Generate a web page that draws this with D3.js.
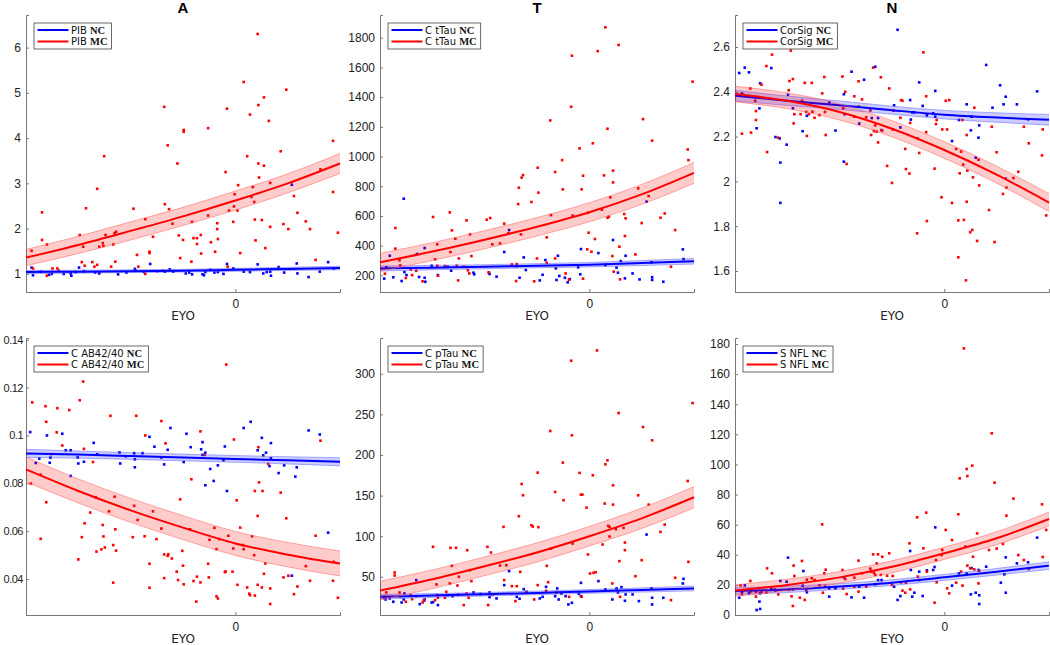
<!DOCTYPE html>
<html>
<head>
<meta charset="utf-8">
<script src="https://cdn.jsdelivr.net/npm/d3@7"></script>
<style>
  body { margin: 0; background: #fff; }
  svg { font-family: "DejaVu Sans", sans-serif; }
  .axis path, .axis line { stroke: #777; }
  .axis text { fill: #222; font-size: 12px; }
</style>
</head>
<body>
<svg id="chart" width="1050" height="645"></svg>
<script>
// EYO positions of the fitted curves
const fitEyo = [-30, -22.5, -15, -7.5, 0, 7.5, 15];
const eyoTicks = [0];

// ---- A : PIB ----
const pibTicks = [1, 2, 3, 4, 5, 6];
const pibMcFit = [1.36, 1.64, 1.95, 2.27, 2.62, 3.0, 3.44];
const pibMcBand = [0.18, 0.19, 0.2, 0.2, 0.21, 0.21, 0.22];
const pibNcFit = [1.04, 1.05, 1.06, 1.07, 1.09, 1.11, 1.13];
const pibNcBand = [0.035, 0.033, 0.03, 0.03, 0.032, 0.035, 0.04];
const pibMC = [[-29.2,1.51],[-29,1.12],[-27.7,2.36],[-27.7,1.75],[-27,1.65],[-27,0.96],[-26.2,1.12],[-25.5,1.12],[-25.3,1.07],
  [-22.3,1.86],[-21.8,1.6],[-21.4,2.45],[-22,1.26],[-21.6,1.18],[-20.5,1.26],[-20.2,1.16],[-19.8,2.88],[-19.8,1.2],[-19.5,1.6],
  [-18.9,1.62],[-18.8,3.6],[-19,1.68],[-18.6,1.86],[-17.8,1.16],[-17.5,1.65],[-17.3,1.9],[-17.1,1.93],[-17.2,1.27],[-14.6,2.44],
  [-14.1,1.42],[-13.9,1.16],[-12.9,2.21],[-12.3,1.49],[-12.3,1.46],[-11.8,1.82],[-12.9,1.0],[-10.2,4.69],[-10.1,2.54],[-9.7,3.84],
  [-9.5,2.43],[-9.0,2.11],[-8.3,3.44],[-8.1,1.85],[-7.9,1.35],[-7.5,1.75],[-7.4,4.18],[-7.4,4.14],[-6.2,2.15],[-6.3,1.27],
  [-6.0,1.79],[-5.5,1.79],[-5.5,1.66],[-4.95,1.86],[-4.9,1.45],[-3.9,4.22],[-3.9,2.29],[-3.5,1.7],[-2.9,1.49],[-2.6,2.12],
  [-2.6,1.99],[-2.5,1.77],[-1.4,3.25],[-1.2,4.65],[-1.1,1.16],[-0.9,2.4],[-0.3,2.15],[-0.2,2.49],[-0.1,2.76],[0.3,2.4],[0.4,2.96],
  [0.7,1.46],[1.2,5.24],[1.7,3.6],[2.1,4.52],[2.3,2.7],[2.5,2.92],[2.7,2.59],[2.8,2.2],[2.9,1.74],[3.2,6.3],[3.3,4.73],[3.3,3.44],
  [3.4,3.13],[3.8,2.19],[4.1,3.39],[4.1,4.9],[4.3,1.57],[4.8,4.38],[5.0,2.04],[5.0,3.01],[6.5,3.71],[6.9,2.1],[7.3,5.07],[7.6,1.99],
  [8.4,2.72],[8.9,2.35],[10.1,2.16],[10.7,1.99],[11.5,1.31],[14.0,3.94],[14.0,2.81],[14.7,1.91],[12.2,3.31],[-10.4,1.07]];
const pibNC = [[-29.2,1.14],[-29,0.97],[-27.9,1.05],[-26.7,0.98],[-26.3,1.0],[-24.6,1.0],[-23.6,1.01],[-23.5,0.96],[-22.9,1.04],
  [-22.4,1.14],[-21.7,1.06],[-20.1,1.03],[-19.5,1.01],[-16.8,0.99],[-15.6,1.03],[-14.4,1.11],[-14.3,1.07],[-13.1,1.04],[-12.2,1.22],
  [-11.2,1.06],[-10.1,1.05],[-9.4,1.1],[-8.9,1.05],[-7.1,1.01],[-6.6,1.03],[-6.2,0.99],[-4.7,0.99],[-4.5,0.97],[-4.3,1.04],
  [-3.6,1.09],[-3.0,1.03],[-2.5,1.04],[-1.7,1.0],[-1.2,1.22],[-0.3,1.12],[1.2,1.05],[2.1,1.04],[3.2,1.21],[4.0,1.01],[4.5,1.04],
  [5.1,0.96],[5.0,1.05],[6.2,1.15],[7.0,1.03],[8.1,2.97],[8.8,1.23],[8.9,1.01],[10.5,0.93],[12.1,1.05],[13.3,1.26],[14.1,1.12]];

// ---- T : CSF tTau ----
const ttauTicks = [200, 400, 600, 800, 1000, 1200, 1400, 1600, 1800];
const ttauMcFit = [288, 360, 440, 527, 625, 745, 890];
const ttauMcBand = [60, 60, 61, 62, 64, 67, 70];
const ttauNcFit = [246, 252, 258, 265, 272, 283, 295];
const ttauNcBand = [17, 15, 14, 14, 15, 17, 19];
const ttauMC = [[-29.3,211],[-27.8,519],[-27.8,380],[-27.2,301],[-27.1,267],[-26.3,182],[-25.6,240],[-25.4,202],[-24.8,231],
  [-23.9,160],[-22.4,593],[-22.1,308],[-21.8,409],[-21.8,265],[-21.7,198],[-20.7,263],[-20.0,624],[-19.9,357],[-19.7,503],
  [-19.2,447],[-19.0,265],[-18.8,166],[-18.7,314],[-18.0,258],[-17.6,256],[-17.6,570],[-17.4,234],[-17.2,213],[-17.1,476],
  [-16.9,330],[-14.7,575],[-14.4,220],[-14.2,586],[-13.9,409],[-12.8,415],[-12.2,548],[-11.6,483],[-11.1,274],[-10.5,162],
  [-10.4,276],[-10.2,680],[-10.1,790],[-9.8,476],[-9.7,858],[-9.5,875],[-8.3,694],[-7.9,160],[-7.5,314],[-7.4,925],[-7.3,757],
  [-6.1,456],[-6.1,285],[-5.6,1243],[-5.5,606],[-4.9,896],[-4.9,314],[-3.9,976],[-3.8,779],[-3.4,213],[-2.9,171],[-2.6,1335],
  [-2.5,1679],[-2.4,602],[-1.4,1055],[-1.1,779],[-0.9,871],[-0.9,178],[-0.3,375],[-0.2,622],[-0.1,487],[0.3,359],[0.5,1089],
  [0.8,445],[1.2,1710],[1.8,642],[2.1,873],[2.3,1870],[2.6,1187],[2.6,588],[2.8,595],[3.0,725],[3.3,330],[3.4,905],[3.4,826],
  [3.5,225],[4.2,1751],[4.3,393],[4.4,173],[5.0,613],[5.1,465],[5.2,584],[6.6,341],[7.0,786],[7.5,552],[7.7,1252],[8.5,734],
  [9.0,1107],[10.2,588],[10.8,617],[11.7,258],[12.3,505],[14.1,1048],[14.2,976],[14.8,1504]];
const ttauNC = [[-29.4,178],[-29.1,254],[-28.6,332],[-28.1,187],[-26.9,162],[-26.6,716],[-26.5,222],[-26.2,202],[-24.7,344],
  [-24.4,189],[-23.6,384],[-23.6,184],[-23.5,157],[-22.6,265],[-21.7,202],[-20.3,258],[-19.8,231],[-16.6,218],[-16.5,207],
  [-14.4,218],[-14.3,209],[-13.3,191],[-12.2,357],[-11.5,505],[-10.4,263],[-10.0,184],[-9.4,321],[-9.1,236],[-7.1,166],
  [-6.7,204],[-6.3,303],[-4.8,247],[-4.7,169],[-4.5,332],[-4.3,196],[-3.5,184],[-3.1,153],[-2.8,175],[-1.6,254],[-1.3,207],
  [-1.2,377],[1.3,350],[2.3,270],[3.4,438],[3.9,252],[4.1,218],[4.5,296],[5.1,180],[5.2,332],[6.2,213],[7.2,173],[8.2,696],
  [8.9,288],[9.0,187],[9.0,169],[10.6,157],[13.4,375],[13.5,310]];

// ---- N : cortical signature ----
const corTicks = [1.6, 1.8, 2, 2.2, 2.4, 2.6];
const corMcFit = [2.39, 2.36, 2.31, 2.235, 2.14, 2.03, 1.905];
const corMcBand = [0.035, 0.035, 0.036, 0.036, 0.037, 0.038, 0.04];
const corNcFit = [2.383, 2.36, 2.34, 2.318, 2.298, 2.285, 2.275];
const corNcBand = [0.024, 0.021, 0.019, 0.018, 0.019, 0.021, 0.024];
const corMC = [[-29.2,2.383],[-29.0,2.213],[-27.8,2.415],[-27.7,2.218],[-27.1,2.36],[-27.0,2.314],[-27.0,2.274],[-26.2,2.432],
  [-25.5,2.515],[-25.4,2.131],[-24.7,2.566],[-23.8,2.195],[-22.3,2.407],[-22.2,2.448],[-21.7,2.457],[-21.6,2.259],[-22.0,2.584],
  [-21.5,2.30],[-20.6,2.30],[-20.4,2.36],[-20.0,2.44],[-19.8,2.31],[-19.7,2.203],[-19.4,2.30],[-19.0,2.44],[-18.9,2.311],
  [-18.6,2.284],[-17.9,2.296],[-17.5,2.393],[-17.2,2.466],[-17.1,2.31],[-17.0,2.207],[-14.6,2.468],[-14.5,2.326],[-14.2,2.40],
  [-14.0,2.078],[-12.9,2.289],[-12.9,2.38],[-12.3,2.447],[-12.3,2.334],[-11.8,2.366],[-11.2,2.286],[-10.6,2.317],[-10.5,2.207],
  [-10.2,2.508],[-10.1,2.225],[-9.9,2.25],[-9.7,2.222],[-9.5,2.174],[-9.1,2.465],[-8.9,2.227],[-8.2,2.069],[-7.9,2.415],
  [-7.5,1.993],[-7.4,2.232],[-7.3,2.316],[-6.3,2.284],[-6.2,2.363],[-6.0,2.36],[-5.6,2.145],[-5.5,2.055],[-5.0,2.035],[-4.9,2.261],
  [-3.9,1.768],[-3.8,2.191],[-3.6,2.127],[-3.0,2.576],[-2.6,2.38],[-2.6,2.22],[-2.5,1.823],[-1.4,2.057],[-1.2,2.256],[-1.1,2.274],
  [-0.4,1.929],[-0.3,2.232],[0.2,2.36],[0.4,2.232],[0.7,2.363],[1.1,1.904],[1.7,2.145],[2.0,1.826],[2.0,1.661],[2.2,2.036],
  [2.4,2.133],[2.6,2.274],[2.7,2.075],[2.8,1.828],[3.1,1.558],[3.2,2.207],[3.2,1.909],[3.3,2.048],[3.7,1.773],[4.0,1.783],
  [4.1,2.018],[4.3,2.329],[4.7,1.734],[4.9,2.097],[5.0,1.982],[6.4,1.872],[6.8,2.244],[7.2,1.729],[7.5,2.13],[8.4,1.944],
  [8.9,1.972],[9.9,2.015],[10.6,2.043],[11.4,2.244],[12.1,2.17],[14.0,2.116],[14.1,2.232],[14.6,1.848]];
const corNC = [[-29.4,2.484],[-29.0,2.392],[-28.6,2.508],[-28.0,2.487],[-26.9,2.237],[-26.5,2.326],[-26.4,2.438],[-24.8,2.506],
  [-24.2,2.198],[-23.6,2.192],[-23.5,2.084],[-23.5,1.904],[-22.6,2.164],[-22.4,2.387],[-21.7,2.326],[-20.3,2.224],[-19.7,2.293],
  [-16.5,2.353],[-15.6,2.227],[-14.4,2.389],[-14.3,2.30],[-14.4,2.088],[-13.3,2.49],[-12.2,2.258],[-11.5,2.454],[-10.4,2.283],
  [-9.9,2.512],[-9.5,2.283],[-9.0,2.229],[-7.2,2.34],[-6.7,2.677],[-6.3,2.241],[-4.9,2.363],[-4.8,2.276],[-4.6,2.308],
  [-4.3,2.308],[-3.6,2.442],[-3.1,2.337],[-2.5,2.295],[-1.6,2.304],[-1.3,2.404],[-1.3,2.289],[1.1,2.18],[2.1,2.274],[3.2,2.344],
  [3.8,2.228],[3.9,2.289],[4.5,2.106],[5.0,2.25],[4.9,2.195],[6.0,2.52],[6.9,2.329],[8.0,2.429],[8.5,2.344],[8.8,2.378],
  [8.8,2.012],[10.4,2.344],[13.3,2.402],[12.0,2.277]];

// ---- A : CSF AB42/40 ----
const abTicks = [0.04, 0.06, 0.08, 0.1, 0.12, 0.14];
const abMcFit = [0.0858, 0.0768, 0.0687, 0.0615, 0.0549, 0.0502, 0.0465];
const abMcBand = [0.0052, 0.005, 0.005, 0.005, 0.005, 0.0051, 0.0052];
const abNcFit = [0.0925, 0.092, 0.0914, 0.0908, 0.0902, 0.0896, 0.089];
const abNcBand = [0.0017, 0.0015, 0.0014, 0.0014, 0.0014, 0.0015, 0.0017];
const abMC = [[-29.3,0.0799],[-29.1,0.1138],[-27.9,0.0568],[-27.9,0.0836],[-27.2,0.1122],[-27.1,0.1057],[-27.1,0.0721],
  [-26.4,0.0922],[-25.6,0.1013],[-25.5,0.1114],[-24.8,0.0958],[-23.8,0.1106],[-22.5,0.0482],[-22.3,0.1147],[-22.0,0.0575],
  [-21.8,0.1225],[-21.7,0.0944],[-21.6,0.0633],[-20.8,0.0678],[-20.4,0.0889],[-20.0,0.0742],[-19.9,0.0515],[-19.2,0.0524],
  [-19.0,0.0626],[-18.9,0.0578],[-18.7,0.0532],[-18.1,0.0683],[-17.9,0.1082],[-17.5,0.0542],[-17.5,0.0385],[-17.3,0.0744],
  [-17.2,0.0608],[-17.1,0.0519],[-14.7,0.0575],[-14.5,0.0706],[-14.2,0.1082],[-14.0,0.0647],[-13.0,0.0579],[-12.9,0.1],
  [-12.3,0.0464],[-12.3,0.0364],[-11.8,0.0683],[-11.3,0.0567],[-10.6,0.106],[-10.6,0.0611],[-10.2,0.0503],[-10.2,0.0404],
  [-10.0,0.0967],[-9.7,0.0497],[-9.6,0.0504],[-9.1,0.0486],[-8.4,0.0431],[-8.2,0.0396],[-7.9,0.0733],[-7.6,0.0518],[-7.5,0.0456],
  [-7.4,0.0378],[-6.5,0.0608],[-6.3,0.0817],[-6.0,0.0392],[-5.6,0.0306],[-5.5,0.041],[-5.0,0.1017],[-5.0,0.0386],[-4.4,0.0919],
  [-3.9,0.0464],[-3.8,0.0407],[-3.7,0.0564],[-3.0,0.0614],[-2.7,0.0525],[-2.7,0.0328],[-2.5,0.0319],[-2.3,0.0567],[-1.5,0.0429],
  [-1.4,0.0432],[-1.3,0.1296],[-1.0,0.0581],[-0.4,0.0431],[-0.3,0.0528],[-0.2,0.0983],[0.2,0.0729],[0.3,0.0376],[0.7,0.0615],
  [1.1,0.0542],[1.2,0.0525],[1.7,0.0365],[2.0,0.0339],[2.1,0.0333],[2.4,0.0579],[2.7,0.05],[2.8,0.0331],[2.8,0.0768],[3.2,0.0664],
  [3.2,0.0376],[3.3,0.0951],[3.4,0.0804],[3.8,0.0365],[3.9,0.0768],[4.1,0.0422],[4.3,0.0465],[4.7,0.0881],[5.0,0.0361],
  [5.0,0.0296],[6.5,0.0761],[6.9,0.0407],[7.3,0.0654],[7.6,0.0414],[8.4,0.0337],[8.9,0.0369],[10.1,0.0454],[10.7,0.0393],
  [11.5,0.0581],[12.2,0.0978],[14.0,0.0393],[14.1,0.0472],[14.7,0.0322]];
const abNC = [[-29.4,0.1014],[-28.6,0.0885],[-28.1,0.0903],[-27.0,0.1],[-26.6,0.0886],[-26.5,0.0907],[-24.8,0.1007],
  [-24.3,0.0938],[-23.6,0.0938],[-23.6,0.0831],[-22.6,0.0908],[-22.5,0.0883],[-21.7,0.089],[-20.3,0.0969],[-19.8,0.0921],
  [-16.6,0.0929],[-16.5,0.0883],[-15.7,0.0913],[-14.5,0.0926],[-14.4,0.0867],[-14.4,0.09],[-13.3,0.0926],[-12.3,0.0994],
  [-11.6,0.0953],[-10.6,0.0908],[-10.2,0.0879],[-9.7,0.094],[-9.3,0.1031],[-7.4,0.0889],[-7.0,0.1007],[-6.4,0.0951],
  [-4.9,0.0942],[-4.7,0.0972],[-4.7,0.0919],[-4.3,0.0928],[-4.3,0.0792],[-3.6,0.086],[-3.1,0.081],[-2.5,0.0875],[-1.7,0.0897],
  [-1.5,0.0954],[-1.2,0.0768],[1.2,0.1031],[2.2,0.1057],[3.2,0.0938],[3.8,0.099],[4.0,0.0917],[4.4,0.0928],[4.9,0.0872],
  [5.1,0.0968],[5.1,0.0904],[6.2,0.0843],[7.0,0.0875],[8.1,0.0414],[8.6,0.0828],[8.8,0.0867],[10.5,0.1021],[12.1,0.1004],
  [13.3,0.0594]];

// ---- T : CSF pTau ----
const ptauTicks = [50, 100, 150, 200, 250, 300];
const ptauMcFit = [33, 47, 63, 80, 100, 122, 148];
const ptauMcBand = [11.5, 11.5, 11.5, 11.8, 12, 12.5, 13];
const ptauNcFit = [25.4, 27, 28.6, 30.2, 32, 33.8, 35.7];
const ptauNcBand = [2.8, 2.4, 2.2, 2.2, 2.3, 2.6, 3];
const ptauMC = [[-29.3,25.4],[-29.1,30.7],[-27.9,55.3],[-27.9,51.6],[-27.2,30.7],[-27.1,26.2],[-26.3,19.3],[-25.6,27.5],
  [-25.4,22.5],[-24.8,26.2],[-23.9,18.4],[-23.7,21.3],[-22.4,86.9],[-22.1,21.3],[-21.9,40.6],[-21.8,27.5],[-21.7,24.2],
  [-20.7,24.2],[-20.5,31.6],[-20.0,41.8],[-19.9,85.7],[-19.7,63.5],[-19.1,85.7],[-18.9,39.3],[-18.8,27.9],[-18.7,50],
  [-18.0,15.2],[-17.6,29.5],[-17.5,82.8],[-17.3,24.2],[-17.1,58.2],[-16.9,44.7],[-14.6,86.9],[-14.5,15.2],[-14.1,79.9],
  [-13.9,27.9],[-12.8,63.9],[-12.3,111.5],[-12.2,45.9],[-11.9,64.3],[-11.1,38.5],[-10.6,20.1],[-10.4,38.5],[-10.1,124.6],
  [-9.9,56.1],[-9.7,164.3],[-9.5,150.4],[-9.0,30.7],[-8.3,113.5],[-8.1,111.9],[-7.9,22.1],[-7.4,178.3],[-7.3,111.1],[-7.4,39.8],
  [-6.2,32.8],[-6.1,63.5],[-5.9,43.4],[-5.6,229.5],[-5.5,84.8],[-4.9,154.5],[-4.7,30.7],[-3.8,190.6],[-3.7,144.3],[-2.9,25.4],
  [-2.6,316],[-2.5,224.2],[-2.4,91],[-1.4,177.9],[-1.2,151.2],[-1.0,151.2],[-1.1,25.4],[-0.4,135.2],[-0.2,77.5],[0.1,54.1],
  [0.5,175],[0.6,54.9],[0.9,55.7],[1.1,328.7],[1.9,89.8],[2.2,140.2],[2.3,188.5],[2.6,193.4],[2.7,112.7],[2.9,111.5],[2.9,99.6],
  [3.3,41.8],[3.4,138.9],[3.4,162.7],[3.8,108.6],[4.2,251.6],[4.3,69.3],[4.4,25.4],[4.9,110.2],[5.1,92.2],[5.1,82.8],[6.6,50.8],
  [7.0,150.4],[7.5,70.5],[7.7,234.4],[8.5,138.9],[9.0,218],[10.2,105.3],[10.8,114.3],[11.7,21.3],[12.3,48.8],[14.1,168],
  [14.2,68.4],[14.8,263.9]];
const ptauNC = [[-29.4,24.2],[-29.2,22.1],[-28.6,23.4],[-28.1,19.3],[-26.9,18.4],[-26.6,22.1],[-26.5,29.5],[-24.8,45.9],
  [-24.3,16.4],[-23.7,20.5],[-23.6,22.1],[-22.6,18.4],[-22.4,18.9],[-21.7,15.2],[-20.3,27.5],[-19.6,26.2],[-16.6,30.7],
  [-15.6,28.7],[-14.3,30.7],[-14.3,25],[-13.3,23.4],[-12.2,39.8],[-11.5,57],[-10.4,25.4],[-10.0,23],[-9.4,34.8],[-9.0,31.6],
  [-7.1,23.4],[-6.7,25.4],[-6.2,37.7],[-4.9,26.2],[-4.6,35.7],[-4.4,22.1],[-4.0,29.5],[-3.4,26.2],[-3.0,16],[-2.5,18],
  [-1.5,29.1],[-1.2,26.2],[-1.2,42.6],[1.3,44.7],[2.3,34.4],[3.3,22.1],[3.9,35.7],[4.1,30.7],[4.6,37.3],[5.1,20.5],[5.2,28.3],
  [6.2,28.3],[7.1,20.1],[8.2,102],[8.9,35.7],[9.0,24.2],[9.0,16],[10.6,24.2],[13.4,41.8],[13.5,47.5]];

// ---- N : serum NfL ----
const nflTicks = [0, 20, 40, 60, 80, 100, 120, 140, 160, 180];
const nflMcFit = [16.2, 20, 25, 32, 41, 51, 63.8];
const nflMcBand = [3.8, 3.8, 3.9, 4, 4.1, 4.3, 4.6];
const nflNcFit = [16, 17, 19, 21.5, 25, 28.7, 32.8];
const nflNcBand = [2.3, 2.1, 1.9, 1.9, 2.0, 2.2, 2.5];
const nflMC = [[-29.2,19.7],[-29.0,13.7],[-27.8,22.6],[-27.7,15.7],[-27.0,12.2],[-27.0,15.5],[-26.2,15.1],[-25.4,31],
  [-25.5,14.8],[-24.7,27.7],[-24.3,17],[-23.8,13.7],[-22.3,16.6],[-21.9,12.4],[-21.7,6],[-21.6,32.8],[-21.5,25.9],[-20.7,11.5],
  [-20.4,35.9],[-20.0,10],[-19.8,16.6],[-19.7,23.5],[-19.0,24.4],[-18.6,23.2],[-17.9,19.7],[-17.5,60.2],[-17.4,14.8],
  [-17.2,27.7],[-17.1,19.3],[-17.0,30.1],[-14.6,29.9],[-14.5,17.5],[-14.2,23.9],[-14.0,13.9],[-12.9,24.8],[-12.9,18.8],
  [-12.3,36.1],[-12.3,15.5],[-11.8,27.7],[-11.2,18.8],[-10.6,30.8],[-10.5,28.8],[-10.2,40.3],[-10.1,28.1],[-9.9,26.6],
  [-9.7,34.3],[-9.5,40.3],[-9.1,26.6],[-8.9,38.7],[-8.2,26.1],[-7.9,41],[-7.5,19.9],[-7.4,25.9],[-6.2,21.7],[-6.0,16.2],
  [-5.6,14.8],[-5.5,21.5],[-5.0,47.6],[-4.9,17],[-3.9,64.9],[-3.8,25.5],[-3.6,23.2],[-3.0,44.3],[-2.6,68],[-2.5,28.8],
  [-1.4,8.2],[-1.2,36.5],[-1.1,21.7],[-0.4,39.8],[-0.3,43.2],[0.2,56.5],[0.4,17.7],[0.7,14.4],[1.1,49.8],[1.7,21.5],[2.0,66.9],
  [2.2,90.8],[2.4,28.8],[2.6,19.5],[2.8,177.1],[3.0,45.4],[3.2,97],[3.3,92.3],[3.3,32.8],[3.7,31],[4.0,99.2],[4.1,38.7],
  [4.3,30.3],[4.7,54.2],[4.9,21],[5.0,29.4],[6.4,43.2],[6.8,120.7],[7.2,87.9],[7.5,44.1],[8.4,47.2],[8.9,66],[9.9,77.3],
  [10.6,39.8],[11.4,36.5],[12.1,30.6],[14.0,73.5],[14.1,38.5],[14.6,56.5]];
const nflNC = [[-29.4,11.5],[-29.0,15.5],[-28.6,19.7],[-28.0,14.4],[-26.9,3.3],[-26.5,8.9],[-26.4,4],[-26.4,14.4],
  [-24.8,17.5],[-24.2,16.2],[-23.5,22.6],[-22.6,22.1],[-22.4,38.1],[-21.7,17],[-20.3,19.5],[-20.2,29.2],[-19.7,15.1],
  [-16.5,17.7],[-16.5,12.2],[-15.6,17.7],[-14.4,25],[-13.3,11.7],[-12.2,18.8],[-11.5,11.5],[-9.9,20.4],[-9.5,23.2],[-9.0,23.2],
  [-7.2,18.8],[-6.7,10],[-6.3,12.6],[-4.9,42.5],[-4.8,29.9],[-4.6,12.2],[-4.3,14.8],[-3.6,28.8],[-3.1,12.6],[-2.5,29.7],
  [-1.6,29.9],[-1.4,31.9],[-1.3,58.2],[1.1,19.5],[2.1,27.7],[3.2,27.5],[3.8,13.7],[3.9,31.2],[4.5,14.8],[4.9,29.9],[5.0,13.1],
  [5.0,7.3],[6.0,32.1],[8.1,21.5],[8.6,27],[8.8,38.3],[8.8,14.8],[10.4,34.3],[12.0,35],[13.3,51.4]];

// panel layout
const panels = [
  { title: "A", name: "PIB", x0: 26, y0: 15, ticks: pibTicks, dom: [0.6, 6.72], mc: pibMC, nc: pibNC,
    mcFit: pibMcFit, mcBand: pibMcBand, ncFit: pibNcFit, ncBand: pibNcBand },
  { title: "T", name: "C tTau", x0: 380, y0: 15, ticks: ttauTicks, dom: [88, 1953], mc: ttauMC, nc: ttauNC,
    mcFit: ttauMcFit, mcBand: ttauMcBand, ncFit: ttauNcFit, ncBand: ttauNcBand },
  { title: "N", name: "CorSig", x0: 735, y0: 15, ticks: corTicks, dom: [1.506, 2.743], mc: corMC, nc: corNC,
    mcFit: corMcFit, mcBand: corMcBand, ncFit: corNcFit, ncBand: corNcBand },
  { title: "", name: "C AB42/40", x0: 26, y0: 338, ticks: abTicks, dom: [0.025, 0.1407], mc: abMC, nc: abNC,
    mcFit: abMcFit, mcBand: abMcBand, ncFit: abNcFit, ncBand: abNcBand, tight: true },
  { title: "", name: "C pTau", x0: 380, y0: 338, ticks: ptauTicks, dom: [3, 344], mc: ptauMC, nc: ptauNC,
    mcFit: ptauMcFit, mcBand: ptauMcBand, ncFit: ptauNcFit, ncBand: ptauNcBand },
  { title: "", name: "S NFL", x0: 735, y0: 338, ticks: nflTicks, dom: [0, 184], mc: nflMC, nc: nflNC,
    mcFit: nflMcFit, mcBand: nflMcBand, ncFit: nflNcFit, ncBand: nflNcBand }
];

const W = 314, H = 277;
const svg = d3.select("#chart");
const fmt = v => String(+v.toFixed(3));

panels.forEach(p => {
  const g = svg.append("g").attr("transform", `translate(${p.x0},${p.y0})`);
  const x = d3.scaleLinear().domain([-30, 15]).range([0, W]);
  const y = d3.scaleLinear().domain(p.dom).range([H, 0]);

  const yAx = g.append("g").attr("class", "axis")
    .call(d3.axisLeft(y).tickValues(p.ticks).tickFormat(fmt).tickSize(-3).tickPadding(p.tight ? 3 : 5));
  if (p.tight) yAx.selectAll("text").style("font-size", "11px").attr("letter-spacing", -0.5);
  g.append("g").attr("class", "axis").attr("transform", `translate(0,${H})`)
    .call(d3.axisBottom(x).tickValues(eyoTicks).tickFormat(fmt).tickSize(-3).tickPadding(7));

  g.append("text").attr("x", W / 2).attr("y", H + 27.5).attr("text-anchor", "middle")
    .attr("font-size", 12).attr("fill", "#222").text("EYO");
  if (p.title) {
    g.append("text").attr("x", W / 2).attr("y", -2).attr("text-anchor", "middle")
      .attr("font-family", "Liberation Sans, Arial, sans-serif").attr("font-weight", "bold")
      .attr("font-size", 15).text(p.title);
  }

  const plot = g.append("g");
  const dot = (data, color) => plot.selectAll(null).data(data).enter().append("rect")
    .attr("x", d => x(d[0]) - 1.3).attr("y", d => y(d[1]) - 1.3)
    .attr("width", 2.6).attr("height", 2.6).attr("fill", color);
  dot(p.nc, "#0000ff");
  dot(p.mc, "#ff0000");

  const fit = (vals, band, color, fill, edge) => {
    const rows = fitEyo.map((e, i) => ({ e, v: vals[i], b: band[i] }));
    plot.append("path").datum(rows)
      .attr("d", d3.area().x(d => x(d.e)).y0(d => y(d.v - d.b)).y1(d => y(d.v + d.b)).curve(d3.curveMonotoneX))
      .attr("fill", fill);
    [-1, 1].forEach(s => plot.append("path").datum(rows)
      .attr("d", d3.line().x(d => x(d.e)).y(d => y(d.v + s * d.b)).curve(d3.curveMonotoneX))
      .attr("fill", "none").attr("stroke", edge).attr("stroke-width", 0.8));
    plot.append("path").datum(rows)
      .attr("d", d3.line().x(d => x(d.e)).y(d => y(d.v)).curve(d3.curveMonotoneX))
      .attr("fill", "none").attr("stroke", color).attr("stroke-width", 2);
  };
  fit(p.ncFit, p.ncBand, "#0000ff", "rgba(0,0,255,0.2)", "rgba(90,90,255,0.6)");
  fit(p.mcFit, p.mcBand, "#ff0000", "rgba(255,0,0,0.2)", "rgba(255,100,100,0.7)");

  // legend
  const lg = g.append("g").attr("transform", "translate(8,8)");
  const box = lg.append("rect").attr("height", 26).attr("fill", "#fff").attr("stroke", "#444").attr("stroke-width", 0.8);
  let maxW = 0;
  [["NC", "#0000ff"], ["MC", "#ff0000"]].forEach((r, i) => {
    const yy = 7 + i * 11.5;
    lg.append("line").attr("x1", 3.5).attr("x2", 34.5).attr("y1", yy).attr("y2", yy)
      .attr("stroke", r[1]).attr("stroke-width", 2);
    const t = lg.append("text").attr("x", 37).attr("y", yy + 3.8).attr("font-size", 10.5).attr("fill", "#111");
    t.append("tspan").attr("font-family", "DejaVu Sans, sans-serif").attr("font-size", 10).text(p.name + " ");
    t.append("tspan").attr("font-family", "Liberation Serif, serif").attr("font-weight", "bold").text(r[0]);
    maxW = Math.max(maxW, t.node().getComputedTextLength());
  });
  box.attr("width", 37 + maxW + 4);
});
</script>
</body>
</html>
